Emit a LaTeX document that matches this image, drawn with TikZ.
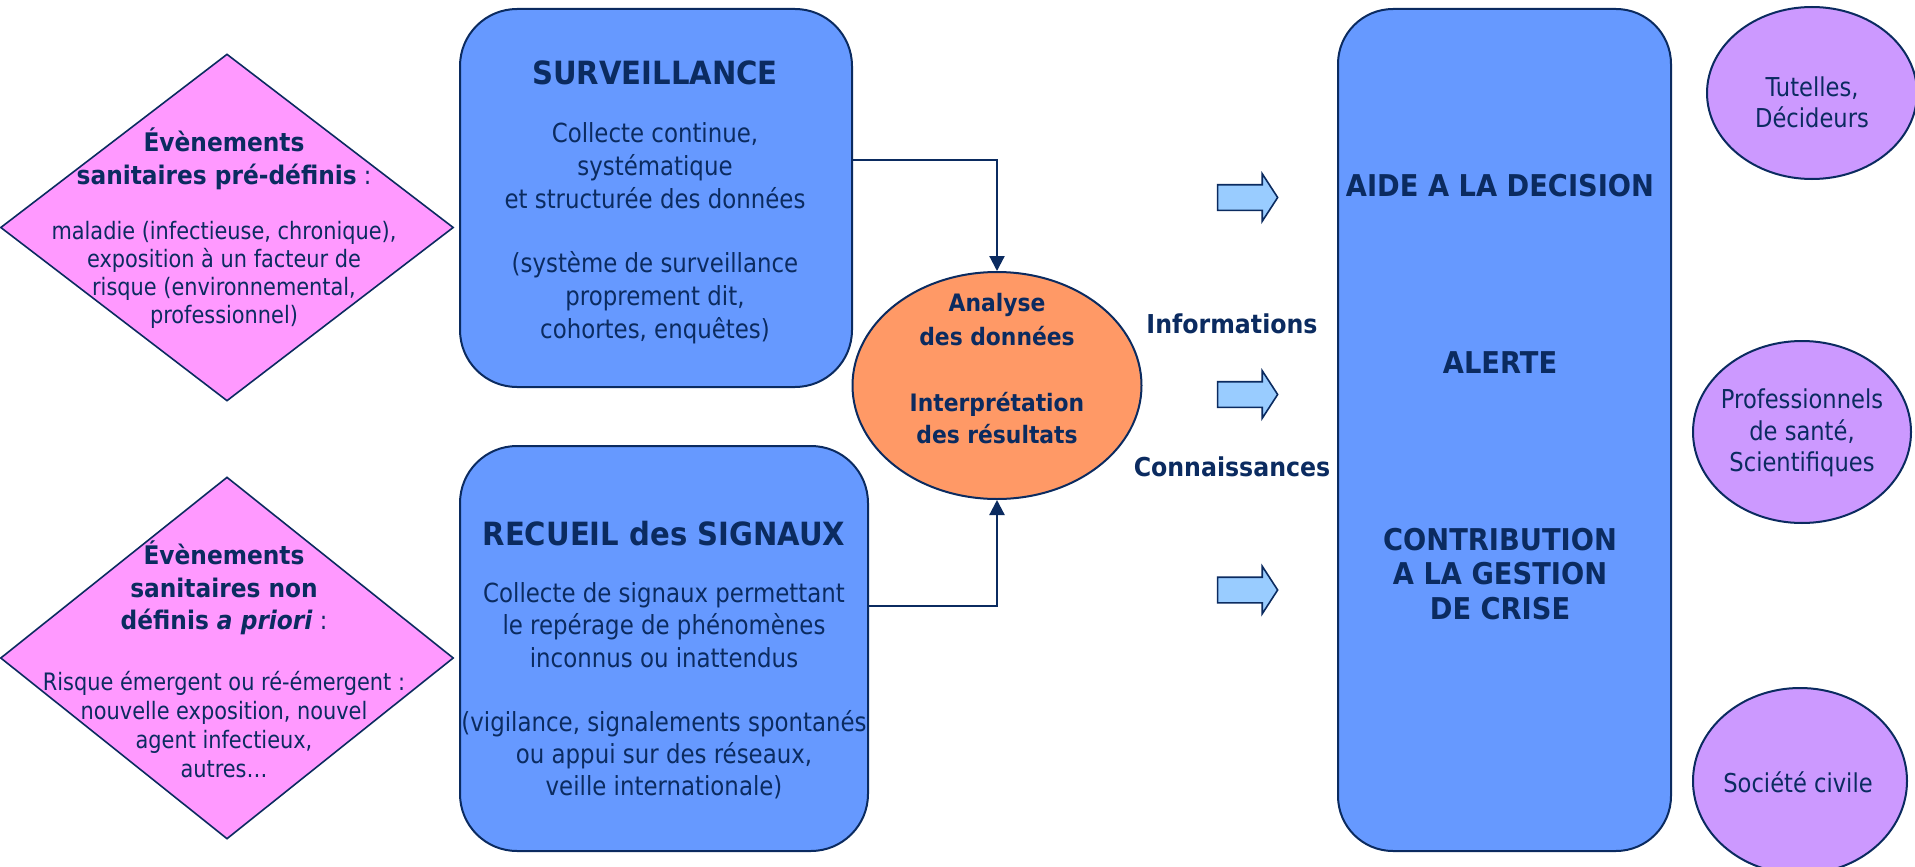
\documentclass[tikz,border=0pt]{standalone}
\usepackage{fontspec}
\setmainfont{DejaVu Sans}
\newfontfamily\rg[FakeStretch=0.87]{DejaVu Sans}
\newfontfamily\bd[FakeStretch=0.91]{DejaVu Sans}
\newcommand\fsz[2]{\fontsize{#1}{#2}\selectfont}
\usetikzlibrary{shapes.geometric,shapes.arrows,arrows.meta}
\definecolor{navy}{HTML}{0B2B60}
\definecolor{pinkf}{HTML}{FF99FF}
\definecolor{bluef}{HTML}{6699FF}
\definecolor{orangef}{HTML}{FF9966}
\definecolor{lavf}{HTML}{CC99FF}
\definecolor{arrf}{HTML}{99CCFF}
\tikzset{
  dia/.style={diamond, draw=navy, fill=pinkf, line width=1.6pt, inner sep=0pt},
  rbox/.style={rectangle, draw=navy, fill=bluef, line width=2pt, rounded corners=57pt, inner sep=0pt},
  oell/.style={ellipse, draw=navy, fill=orangef, line width=2pt, inner sep=0pt},
  lell/.style={ellipse, draw=navy, fill=lavf, line width=2pt, inner sep=0pt},
  barrow/.style={single arrow, draw=navy, fill=arrf, line width=1.6pt,
     inner xsep=0pt, inner ysep=12pt, text width=0pt, text height=0pt, text depth=0pt,
     minimum height=60pt, single arrow head extend=11pt,
     single arrow tip angle=114},
  conn/.style={draw=navy, line width=2.2pt, -{Triangle[width=15pt,length=15pt]}},
  txt/.style={text=navy, align=center, inner sep=0pt},
  rgt/.style 2 args={txt, font=\rg\fsz{#1}{#2}},
  bdt/.style 2 args={txt, font=\bd\bfseries\fsz{#1}{#2}}
}
\begin{document}
\begin{tikzpicture}[x=1pt,y=-1pt]
\useasboundingbox (0,0) rectangle (1915,867);
\fill[white] (0,0) rectangle (1915,867);
% shapes
\node[dia, minimum width=453pt, minimum height=347pt] (d1) at (227,227.5) {};
\node[dia, minimum width=453pt, minimum height=362pt] (d2) at (227,658) {};
\node[rbox, minimum width=392pt, minimum height=378pt] (surv) at (656,198) {};
\node[rbox, minimum width=408pt, minimum height=405pt] (rec) at (664,648.5) {};
\node[oell, minimum width=289pt, minimum height=227pt] (ana) at (997,385.5) {};
\node[rbox, rounded corners=55pt, minimum width=333pt, minimum height=842pt] (res) at (1504.5,430) {};
\node[lell, minimum width=210pt, minimum height=172pt] (e1) at (1812,93) {};
\node[lell, minimum width=218pt, minimum height=182pt] (e2) at (1802,432) {};
\node[lell, minimum width=214pt, minimum height=186pt] (e3) at (1800,781) {};
\node[barrow] (a1) at (1243.5,197.5) {};
\node[barrow] (a2) at (1243.5,394.5) {};
\node[barrow] (a3) at (1243.5,590) {};
% connectors
\coordinate (s1) at (852,160);
\coordinate (r1) at (868,606);
\draw[conn] (s1) -| (ana.north);
\draw[conn] (r1) -| (ana.south);
% texts
\node[bdt={25.6}{33}] (d1h) at (224,158.5) {Évènements\\sanitaires pré-définis{\rg\mdseries\ :}};
\node[rgt={24}{28}] (d1b) at (224,275) {maladie (infectieuse, chronique),\\exposition à un facteur de\\risque (environnemental,\\professionnel)};
\node[bdt={25.6}{32.5}] (d2h) at (224,588) {Évènements\\sanitaires non\\définis \textit{a priori}{\rg\mdseries\ :}};
\node[rgt={24}{29}] (d2b) at (224,724.5) {Risque émergent ou ré-émergent :\\nouvelle exposition, nouvel\\agent infectieux,\\autres…};
\node[bdt={32}{38}] (st) at (655,73) {SURVEILLANCE};
\node[rgt={26.3}{33}] (sb1) at (655,166) {Collecte continue,\\systématique\\et structurée des données};
\node[rgt={26.3}{33}] (sb2) at (655,298) {(système de surveillance\\proprement dit,\\cohortes, enquêtes)};
\node[bdt={32}{38}] (rt) at (664,534) {RECUEIL des SIGNAUX};
\node[rgt={26.3}{32.5}] (rb1) at (664,625) {Collecte de signaux permettant\\le repérage de phénomènes\\inconnus ou inattendus};
\node[rgt={26.3}{32}] (rb2) at (664,755) {(vigilance, signalements spontanés\\ou appui sur des réseaux,\\veille internationale)};
\node[bdt={24}{34}] (at1) at (997,320) {Analyse\\des données};
\node[bdt={24}{32}] (at2) at (997,418) {Interprétation\\des résultats};
\node[bdt={26}{30}] (inf) at (1232,324) {Informations};
\node[bdt={26}{30}] (con) at (1232,467) {Connaissances};
\node[bdt={30}{34.5}] (aide) at (1500,186) {AIDE A LA DECISION};
\node[bdt={30}{34.5}] (alerte) at (1500,363) {ALERTE};
\node[bdt={30}{34.5}] (contrib) at (1500,574) {CONTRIBUTION\\A LA GESTION\\DE CRISE};
\node[rgt={26}{31}] (t1) at (1812,102) {Tutelles,\\Décideurs};
\node[rgt={26}{31.5}] (t2) at (1802,433) {Professionnels\\de santé,\\Scientifiques};
\node[rgt={26}{31}] (t3) at (1798,782) {Société civile};
\end{tikzpicture}
\end{document}
